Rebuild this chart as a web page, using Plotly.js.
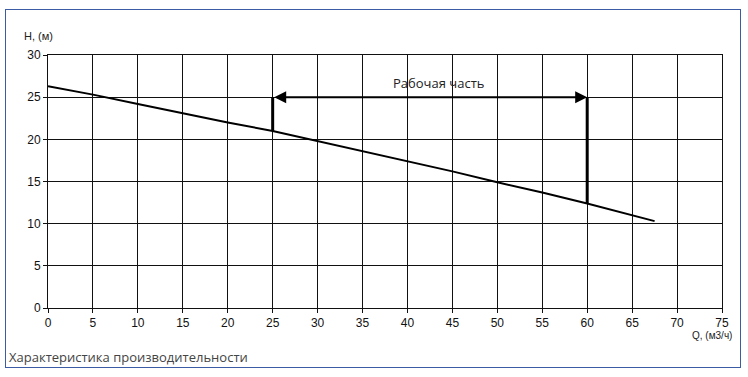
<!DOCTYPE html>
<html>
<head>
<meta charset="utf-8">
<script src="https://cdn.plot.ly/plotly-3.0.1.min.js"></script>
<style>
html,body{margin:0;padding:0;background:#fff;}
#frame{position:absolute;left:5px;top:9px;width:734px;height:357px;border:1px solid #3b5ba5;pointer-events:none;}
#chart{position:absolute;left:0;top:0;width:748px;height:377px;}
</style>
</head>
<body>
<div id="chart"></div>
<div id="frame"></div>
<script>
// Pump curve: flow Q (m3/h) vs head H (m)
const flowQ = [0, 5, 10, 15, 20, 25, 30, 35, 40, 45, 50, 55, 60, 65, 67.5];
const headH = [26.3, 25.3, 24.2, 23.1, 22.0, 21.0, 19.8, 18.6, 17.4, 16.2, 14.9, 13.7, 12.4, 11.0, 10.3];
// Working range
const workQ = [25, 60];
const workTopH = 25;
const workBottomH = [21.0, 12.4];
const workLabel = "Рабочая часть";
const xTicks = [0,5,10,15,20,25,30,35,40,45,50,55,60,65,70,75];
const yTicks = [0,5,10,15,20,25,30];
const yTitle = "H, (м)";
const xTitle = "Q, (м3/ч)";
const caption = "Характеристика производительности";

const traces = [
  {x: flowQ, y: headH, mode: 'lines', line: {color: '#000', width: 2}, hoverinfo: 'skip'},
  {x: [workQ[0], workQ[0]], y: [workBottomH[0], workTopH], mode: 'lines', line: {color: '#000', width: 3}, hoverinfo: 'skip'},
  {x: [workQ[1], workQ[1]], y: [workBottomH[1], workTopH], mode: 'lines', line: {color: '#000', width: 3}, hoverinfo: 'skip'}
];

const axisCommon = {
  showgrid: true, gridcolor: '#111', gridwidth: 1,
  showline: true, linecolor: '#111', linewidth: 1, mirror: true,
  ticks: 'outside', ticklen: 4, tickcolor: '#111',
  zeroline: false,
  tickfont: {family: 'Liberation Sans, Arial, sans-serif', size: 12, color: '#111'}
};

const pw = 748 - 48 - 26, ph = 377 - 55 - 69;
const px = v => (v - 48) / pw;
const py = v => (308 - v) / ph;

const layout = {
  width: 748, height: 377,
  margin: {l: 48, r: 26, t: 55, b: 69},
  paper_bgcolor: '#fff', plot_bgcolor: '#fff',
  showlegend: false,
  xaxis: Object.assign({}, axisCommon, {range: [0, 75], tickvals: xTicks, ticktext: xTicks.map(String)}),
  yaxis: Object.assign({}, axisCommon, {range: [0, 30], tickvals: yTicks, ticktext: yTicks.map(String)}),
  annotations: [
    {x: workQ[1], y: workTopH, ax: workQ[0], ay: workTopH, xref: 'x', yref: 'y', axref: 'x', ayref: 'y',
     text: '', showarrow: true, arrowhead: 2, arrowside: 'end+start', arrowsize: 1.2, arrowwidth: 2, arrowcolor: '#000'},
    {x: 43.4, y: 26.7, xref: 'x', yref: 'y', text: workLabel, showarrow: false,
     font: {family: 'Open Sans, sans-serif', size: 13, color: '#222'}},
    {x: px(22), y: py(36), xref: 'paper', yref: 'paper', xanchor: 'left', yanchor: 'middle', text: yTitle, showarrow: false,
     font: {family: 'Liberation Sans, Arial, sans-serif', size: 11, color: '#222'}},
    {x: px(734), y: py(335), xref: 'paper', yref: 'paper', text: xTitle, showarrow: false, xanchor: 'right', yanchor: 'middle',
     font: {family: 'Liberation Sans, Arial, sans-serif', size: 10, color: '#222'}},
    {x: px(7), y: py(357), xref: 'paper', yref: 'paper', text: caption, showarrow: false, xanchor: 'left', yanchor: 'middle',
     font: {family: 'Open Sans, sans-serif', size: 13, color: '#444'}}
  ]
};

Plotly.newPlot('chart', traces, layout, {staticPlot: true});
</script>
</body>
</html>
